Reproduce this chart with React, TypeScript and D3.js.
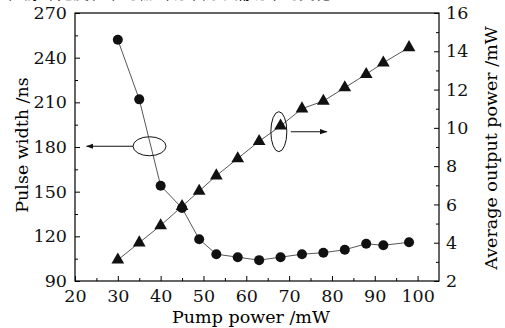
import React, { useEffect, useRef } from "react";
import {
  select,
  scaleLinear,
  axisBottom,
  axisLeft,
  axisRight,
  line,
  symbol,
  symbolTriangle,
  range
} from "d3";

// pump power (mW) for each measurement
const pumpPower = [30, 35, 40, 45, 49, 53, 58, 63, 68, 73, 78, 83, 88, 92, 98];
// pulse width (ns), left axis
const pulseWidth = [252, 212, 154, 139, 118, 108, 106, 104, 106, 108, 109, 111, 115, 114, 116];
// average output power (mW), right axis
const outputPower = [3.1, 4.0, 4.9, 5.9, 6.7, 7.5, 8.4, 9.3, 10.1, 11.0, 11.4, 12.1, 12.8, 13.4, 14.2];

const xTicks = [20, 30, 40, 50, 60, 70, 80, 90, 100];
const leftTicks = [90, 120, 150, 180, 210, 240, 270];
const rightTicks = [2, 4, 6, 8, 10, 12, 14, 16];

const FONT = "'DejaVu Serif', serif";

export default function App() {
  const svgRef = useRef<SVGSVGElement>(null);

  useEffect(() => {
    const svg = select(svgRef.current);
    svg.selectAll("*").remove();

    const left = 75, right = 439, top = 13, bottom = 281;

    const x = scaleLinear().domain([20, 105]).range([left, right]);
    const yL = scaleLinear().domain([90, 270]).range([bottom, top]);
    const yR = scaleLinear().domain([2, 16]).range([bottom, top]);

    // caption of the figure, mostly cut off by the top edge
    svg
      .append("text")
      .attr("x", -4)
      .attr("y", -1)
      .attr("font-family", "'Noto Sans CJK SC', sans-serif")
      .attr("font-size", 19)
      .attr("textLength", 335)
      .attr("lengthAdjust", "spacingAndGlyphs")
      .attr("fill", "#111")
      .text("图3 脉冲宽度和平均输出功率随泵浦功率的变化");

    // frame
    svg
      .append("rect")
      .attr("x", left)
      .attr("y", top)
      .attr("width", right - left)
      .attr("height", bottom - top)
      .attr("fill", "none")
      .attr("stroke", "#000")
      .attr("stroke-width", 1.2);

    const styleAxis = g => {
      g.select(".domain").remove();
      g.selectAll("line").attr("stroke", "#000").attr("stroke-width", 1);
      g.selectAll("text").attr("font-family", FONT).attr("font-size", 17.5).attr("fill", "#111");
    };

    // minor ticks
    const minor = (g, ticks) => g.call(ticks).call(styleAxis).selectAll("text").remove();

    svg
      .append("g")
      .attr("transform", `translate(0,${bottom})`)
      .call(g => minor(g, axisBottom(x).tickValues(range(25, 105, 10)).tickSize(-3).tickFormat(() => "")));
    svg
      .append("g")
      .attr("transform", `translate(${left},0)`)
      .call(g => minor(g, axisLeft(yL).tickValues(range(105, 270, 30)).tickSize(-3).tickFormat(() => "")));
    svg
      .append("g")
      .attr("transform", `translate(${right},0)`)
      .call(g => minor(g, axisRight(yR).tickValues(range(3, 16, 2)).tickSize(-3).tickFormat(() => "")));

    // major ticks + labels
    svg
      .append("g")
      .attr("transform", `translate(0,${bottom})`)
      .call(axisBottom(x).tickValues(xTicks).tickSize(-5).tickPadding(9))
      .call(styleAxis);
    svg
      .append("g")
      .attr("transform", `translate(${left},0)`)
      .call(axisLeft(yL).tickValues(leftTicks).tickSize(-5).tickPadding(8))
      .call(styleAxis);
    svg
      .append("g")
      .attr("transform", `translate(${right},0)`)
      .call(axisRight(yR).tickValues(rightTicks).tickSize(-5).tickPadding(7))
      .call(styleAxis);

    // axis titles
    svg
      .append("text")
      .attr("x", 251)
      .attr("y", 323)
      .attr("text-anchor", "middle")
      .attr("font-family", FONT)
      .attr("font-size", 17.5)
      .text("Pump power /mW");
    svg
      .append("text")
      .attr("transform", `translate(28,145) rotate(-90)`)
      .attr("text-anchor", "middle")
      .attr("font-family", FONT)
      .attr("font-size", 17.5)
      .text("Pulse width /ns");
    svg
      .append("text")
      .attr("transform", `translate(497,148) rotate(-90)`)
      .attr("text-anchor", "middle")
      .attr("font-family", FONT)
      .attr("font-size", 17.5)
      .text("Average output power /mW");

    // series lines
    const pts = pumpPower.map((p, i) => ({ p, w: pulseWidth[i], o: outputPower[i] }));
    svg
      .append("path")
      .datum(pts)
      .attr("fill", "none")
      .attr("stroke", "#444")
      .attr("stroke-width", 0.9)
      .attr("d", line<any>().x(d => x(d.p)).y(d => yL(d.w)));
    svg
      .append("path")
      .datum(pts)
      .attr("fill", "none")
      .attr("stroke", "#444")
      .attr("stroke-width", 0.9)
      .attr("d", line<any>().x(d => x(d.p)).y(d => yR(d.o)));

    // markers
    svg
      .selectAll(".dot")
      .data(pts)
      .join("circle")
      .attr("class", "dot")
      .attr("cx", d => x(d.p))
      .attr("cy", d => yL(d.w))
      .attr("r", 5)
      .attr("fill", "#111");
    svg
      .selectAll(".tri")
      .data(pts)
      .join("path")
      .attr("class", "tri")
      .attr("transform", d => `translate(${x(d.p)},${yR(d.o)})`)
      .attr("d", symbol().type(symbolTriangle).size(70)())
      .attr("fill", "#111");

    // annotations: ellipses with arrows to the axes
    const defs = svg.append("defs");
    defs
      .append("marker")
      .attr("id", "arr")
      .attr("viewBox", "0 0 10 10")
      .attr("refX", 9)
      .attr("refY", 5)
      .attr("markerWidth", 7)
      .attr("markerHeight", 7)
      .attr("orient", "auto")
      .append("path")
      .attr("d", "M0,1.5 L10,5 L0,8.5 Z")
      .attr("fill", "#111");

    const ellL = { cx: x(37.4), cy: yL(180.5) };
    svg
      .append("ellipse")
      .attr("cx", ellL.cx)
      .attr("cy", ellL.cy)
      .attr("rx", 16.5)
      .attr("ry", 9.5)
      .attr("fill", "none")
      .attr("stroke", "#111")
      .attr("stroke-width", 1);
    svg
      .append("line")
      .attr("x1", ellL.cx - 16.5)
      .attr("y1", ellL.cy)
      .attr("x2", x(22.7))
      .attr("y2", ellL.cy)
      .attr("stroke", "#111")
      .attr("stroke-width", 1.1)
      .attr("marker-end", "url(#arr)");

    const ellR = { cx: x(67.6), cy: yR(9.8) };
    svg
      .append("ellipse")
      .attr("cx", ellR.cx)
      .attr("cy", ellR.cy)
      .attr("rx", 8)
      .attr("ry", 20)
      .attr("fill", "none")
      .attr("stroke", "#111")
      .attr("stroke-width", 1);
    svg
      .append("line")
      .attr("x1", ellR.cx + 12)
      .attr("y1", ellR.cy)
      .attr("x2", x(78.8))
      .attr("y2", ellR.cy)
      .attr("stroke", "#111")
      .attr("stroke-width", 1.1)
      .attr("marker-end", "url(#arr)");
  }, []);

  return (
    <svg
      ref={svgRef}
      width={505}
      height={328}
      style={{ position: "absolute", left: 0, top: 0, background: "#fff" }}
    />
  );
}
